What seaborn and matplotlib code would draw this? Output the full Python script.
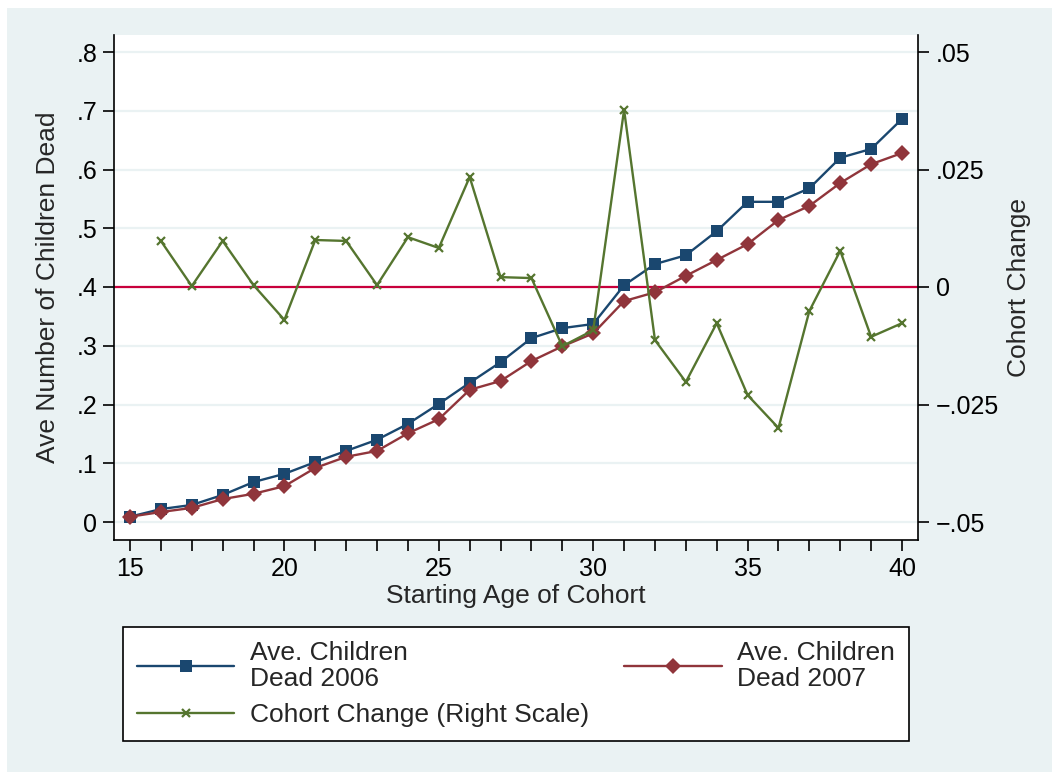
import matplotlib
matplotlib.use("Agg")
import matplotlib.pyplot as plt
import matplotlib.patches as mpatches
import seaborn as sns
import pandas as pd

sns.set_style("white")
plt.rcParams["font.family"] = ["Liberation Sans", "DejaVu Sans"]

# data
ages = list(range(15, 41))
dead_2006 = [0.009, 0.022, 0.029, 0.046, 0.068, 0.082, 0.102, 0.121, 0.140, 0.167,
             0.201, 0.237, 0.272, 0.313, 0.330, 0.337, 0.403, 0.439, 0.454, 0.495,
             0.545, 0.545, 0.568, 0.620, 0.635, 0.686]
dead_2007 = [0.009, 0.017, 0.024, 0.039, 0.048, 0.061, 0.092, 0.111, 0.121, 0.151,
             0.175, 0.225, 0.240, 0.274, 0.299, 0.321, 0.376, 0.391, 0.419, 0.446,
             0.473, 0.514, 0.538, 0.577, 0.609, 0.628]
change_ages = list(range(16, 41))
cohort_change = [0.0098, 0.0002, 0.0098, 0.0004, -0.0070, 0.0100, 0.0098, 0.0004, 0.0106,
                 0.0083, 0.0234, 0.0021, 0.0019, -0.0126, -0.0092, 0.0377, -0.0113,
                 -0.0202, -0.0077, -0.0230, -0.0300, -0.0051, 0.0077, -0.0106, -0.0077]

left_ticks = [0, 0.1, 0.2, 0.3, 0.4, 0.5, 0.6, 0.7, 0.8]
left_labels = ["0", ".1", ".2", ".3", ".4", ".5", ".6", ".7", ".8"]
right_ticks = [-0.05, -0.025, 0, 0.025, 0.05]
right_labels = ["\u2212.05", "\u2212.025", "0", ".025", ".05"]
x_labels = {15: "15", 20: "20", 25: "25", 30: "30", 35: "35", 40: "40"}

df = pd.DataFrame({"age": ages, "d2006": dead_2006, "d2007": dead_2007})
dc = pd.DataFrame({"age": change_ages, "change": cohort_change})

navy = "#1A476F"
maroon = "#90353B"
green = "#55752F"
bg = "#EAF2F3"
fs_tick = 18
fs_lab = 19

W, H = 1052, 772
fig = plt.figure(figsize=(W / 100, H / 100), dpi=100, facecolor="white")
fig.patches.append(mpatches.Rectangle((7 / W, 0), 1 - 7 / W, 1 - 8 / H,
                                      transform=fig.transFigure, facecolor=bg,
                                      edgecolor="none", zorder=-10))

ax = fig.add_axes([114 / W, 1 - 540 / H, 804 / W, 505 / H])
ax.set_facecolor("white")

for t in left_ticks:
    ax.axhline(t, color=bg, lw=1.6, zorder=0)
ax.axhline(0.4, color="#C8003C", lw=1.6, zorder=1)

sns.lineplot(data=df, x="age", y="d2006", ax=ax, color=navy, marker="s", markersize=8,
             markeredgewidth=0, lw=1.7, label="Ave. Children\nDead 2006", legend=False, zorder=3)
sns.lineplot(data=df, x="age", y="d2007", ax=ax, color=maroon, marker="D", markersize=8,
             markeredgewidth=0, lw=1.7, label="Ave. Children\nDead 2007", legend=False, zorder=3)

ax2 = ax.twinx()
sns.lineplot(data=dc, x="age", y="change", ax=ax2, color=green, marker="x", markersize=6,
             markeredgewidth=1.6, markeredgecolor=green, lw=1.7,
             label="Cohort Change (Right Scale)", legend=False)

ax.set_xlim(15 - 16 / 30.88, 40 + 16 / 30.88)
ax.set_ylim(-18 / 587.5, 0.8 + 17 / 587.5)
ax2.set_ylim(-0.05 - 18 / 4700, 0.05 + 17 / 4700)

ax.set_xticks(ages)
ax.set_xticklabels([x_labels.get(a, "") for a in ages])
ax.set_yticks(left_ticks)
ax.set_yticklabels(left_labels)
ax2.set_yticks(right_ticks)
ax2.set_yticklabels(right_labels)

for a in (ax, ax2):
    a.tick_params(axis="both", direction="out", length=8, width=1.2, color="black",
                  labelsize=fs_tick, labelcolor="black", pad=4)
    for s in a.spines.values():
        s.set_visible(False)
ax.tick_params(axis="y", left=True)
ax.tick_params(axis="x", bottom=True)
ax2.tick_params(axis="y", right=True, pad=5)
ax.spines["left"].set_visible(True)
ax.spines["bottom"].set_visible(True)
ax2.spines["right"].set_visible(True)
for s in (ax.spines["left"], ax.spines["bottom"], ax2.spines["right"]):
    s.set_color("black")
    s.set_linewidth(1.2)

ax.set_xlabel("Starting Age of Cohort", fontsize=fs_lab, va="center")
ax.xaxis.set_label_coords(0.5, (540 - 596) / 505)
ax.set_ylabel("Ave Number of Children Dead", fontsize=fs_lab, va="center")
ax.yaxis.set_label_coords((48 - 114) / 804, 0.5)
ax2.set_ylabel("Cohort Change", fontsize=fs_lab, va="center", rotation=90)
ax2.yaxis.set_label_coords((1019 - 114) / 804, 0.5)

h1, l1 = ax.get_legend_handles_labels()
h2, l2 = ax2.get_legend_handles_labels()
handles = [h1[0], h2[0], h1[1]]
labels = [l1[0], l2[0], l1[1]]
leg = fig.legend(handles, labels, loc="upper left",
                 bbox_to_anchor=(123 / W, 1 - 741 / H, (909 - 123) / W, 114 / H),
                 mode="expand", ncol=2, fontsize=fs_lab, frameon=True, fancybox=False,
                 edgecolor="black", facecolor="white", framealpha=1,
                 handlelength=3.7, handletextpad=0.6, borderpad=0.52,
                 labelspacing=0.45, borderaxespad=0)
leg.get_frame().set_linewidth(1.2)
for t in leg.get_texts():
    t.set_linespacing(1.12)

fig.savefig("out.png", dpi=100, facecolor=fig.get_facecolor())
